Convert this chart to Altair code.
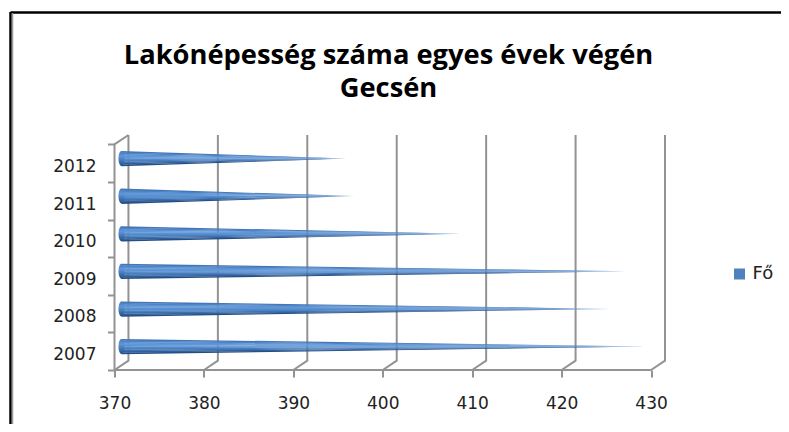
import altair as alt
import pandas as pd

years = ["2007", "2008", "2009", "2010", "2011", "2012"]
values = [429.8, 425.8, 427.7, 409.0, 396.9, 396.1]
x_ticks = [370, 380, 390, 400, 410, 420, 430]
series_name = "Fő"
title_lines = ["Lakónépesség száma egyes évek végén", "Gecsén"]

depth_x = 1.56
depth_y = 0.25
cone_half = 0.2

strip_edges = [1.0, 0.8, 0.6, 0.4, 0.2, 0.0, -0.2, -0.4, -0.6, -0.8, -1.0]
strip_cols = ["#4477b8", "#4f85c6", "#5a92d4", "#5e97da", "#5a92d4", "#528aca", "#4a7ebd", "#3e70ad", "#305f99", "#234e86"]
pale = "#c3d6ee"
GREY = "#939393"
TEXT = "#222222"

X = alt.Scale(domain=[370, 370 + 60 + depth_x], nice=False, zero=False)
Y = alt.Scale(domain=[0, 6 + depth_y], nice=False, zero=False)
x_axis = alt.Axis(values=x_ticks, grid=False, domain=False, tickSize=7, tickColor=GREY, tickWidth=2,
                  labelFontSize=17, labelFont="DejaVu Sans", labelColor=TEXT, labelPadding=18, title=None,
                  labelFlush=False)
y_axis = alt.Axis(values=list(range(7)), grid=False, domain=False, tickSize=7, tickColor=GREY, tickWidth=2,
                  labels=False, title=None)
xe = alt.X("x:Q", scale=X, axis=x_axis, stack=None)
ye = alt.Y("y:Q", scale=Y, axis=y_axis, stack=None)

rows = []
for i, (yr, v) in enumerate(zip(years, values)):
    c = i + 0.5 + depth_y / 2
    base = 370 + depth_x / 2
    for s in range(len(strip_cols)):
        rows.append(dict(year=yr, strip=s, x=base, y=c + cone_half * strip_edges[s], y2=c + cone_half * (strip_edges[s + 1] - 0.04)))
        rows.append(dict(year=yr, strip=s, x=v, y=c, y2=c))
cones = pd.DataFrame(rows)

layers = []
for s, col in reversed(list(enumerate(strip_cols))):
    grad = alt.Gradient(gradient="linear", x1=0, x2=1, y1=0, y2=0,
                        stops=[alt.GradientStop(color=col, offset=0),
                               alt.GradientStop(color=col, offset=0.88),
                               alt.GradientStop(color=pale, offset=1)])
    layers.append(
        alt.Chart(cones[cones.strip == s]).mark_area(fill=grad, clip=False).encode(
            x=xe, y=ye, y2="y2:Q", detail="year:N",
        )
    )

caps = pd.DataFrame({"x": [370 + depth_x / 2] * 6, "y": [i + 0.5 + depth_y / 2 for i in range(6)]})
cap_grad = alt.Gradient(gradient="linear", x1=0, x2=0, y1=0, y2=1,
                        stops=[alt.GradientStop(color=strip_cols[0], offset=0),
                               alt.GradientStop(color=strip_cols[3], offset=0.35),
                               alt.GradientStop(color=strip_cols[-1], offset=1)])
cap_layer = alt.Chart(caps).mark_point(
    filled=True, fill=cap_grad, opacity=1, size=225,
    shape="M-0.4,0 A0.4,1 0 1 1 0.4,0 A0.4,1 0 1 1 -0.4,0 Z",
).encode(x=xe, y=ye)

frame = []
for t in x_ticks:
    frame += [dict(k=f"g{t}", o=0, x=t, y=0), dict(k=f"g{t}", o=1, x=t + depth_x, y=depth_y),
              dict(k=f"g{t}", o=2, x=t + depth_x, y=6 + depth_y)]
frame += [dict(k="floor", o=0, x=370, y=0), dict(k="floor", o=1, x=430, y=0)]
frame += [dict(k="wall", o=0, x=370, y=0), dict(k="wall", o=1, x=370, y=6), dict(k="wall", o=2, x=370 + depth_x, y=6 + depth_y)]
frame_layer = alt.Chart(pd.DataFrame(frame)).mark_line(color=GREY, strokeWidth=2, clip=False).encode(
    x=xe, y=ye, detail="k:N", order="o:Q",
)

lab = pd.DataFrame({"year": years, "x": [370] * 6, "y": [i + 0.4 for i in range(6)]})
lab_layer = alt.Chart(lab).mark_text(align="right", baseline="middle", dx=-18, fontSize=17, font="DejaVu Sans", color=TEXT).encode(
    x=xe, y=ye, text="year:N")

leg = pd.DataFrame({"s": [series_name], "x": [370], "y": [0]})
leg_layer = alt.Chart(leg).mark_square(size=0, opacity=1).encode(
    x=xe, y=ye,
    color=alt.Color("s:N", scale=alt.Scale(domain=[series_name], range=["#4f81bd"]),
                    legend=alt.Legend(title=None, orient="none", legendX=616, legendY=130, symbolType="square",
                                      symbolSize=121, labelFontSize=18, labelFont="DejaVu Sans", labelColor=TEXT,
                                      symbolOpacity=1, symbolStrokeWidth=0)),
)

title_df = pd.DataFrame({"line": title_lines, "py": [-79, -46]})
title_layer = alt.Chart(title_df).mark_text(align="center", baseline="middle", fontSize=27.3, font="Open Sans",
                                            fontWeight="bold", color="#000000").encode(
    x=alt.value(274), y=alt.Y("py:Q", scale=None), text="line:N")

one = pd.DataFrame({"k": [0]})
border_h = alt.Chart(one).mark_rule().encode(
    x=alt.value(-104), x2=alt.value(690), y=alt.value(-122.5), color=alt.value("#000000"), strokeWidth=alt.value(2.5))
border_v = alt.Chart(one).mark_rule().encode(
    x=alt.value(-104), y=alt.value(-123), y2=alt.value(310), color=alt.value("#000000"), strokeWidth=alt.value(2.5))
border_v2 = alt.Chart(one).mark_rule().encode(
    x=alt.value(-102), y=alt.value(-122), y2=alt.value(310), color=alt.value("#999999"), strokeWidth=alt.value(1.5))

chart = alt.layer(frame_layer, *layers, cap_layer, lab_layer, leg_layer, title_layer, border_h, border_v, border_v2).properties(
    width=550.5, height=235,
    background="white",
    padding={"left": 106.5, "top": 127, "right": 116, "bottom": 54},
    autosize=alt.AutoSizeParams(type="none"),
).configure_view(stroke=None)

chart.save("out.html", embed_options={"renderer": "svg", "actions": False})
